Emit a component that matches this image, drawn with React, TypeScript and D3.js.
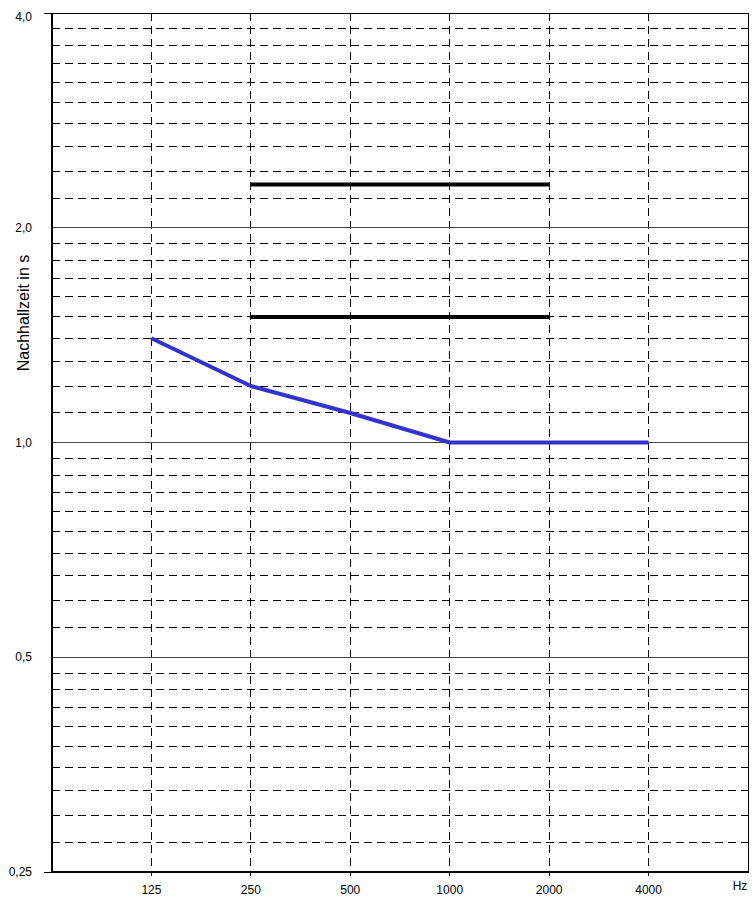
import React from "react";
import * as d3 from "d3";

const categories = ["125", "250", "500", "1000", "2000", "4000"];
const measured = [1.4, 1.2, 1.1, 1.0, 1.0, 1.0];
const upperCats = ["250", "2000"];
const upperValues = [2.3, 2.3];
const lowerCats = ["250", "2000"];
const lowerValues = [1.5, 1.5];
const majorTicks = [0.25, 0.5, 1.0, 2.0, 4.0];
const majorLabels = ["0,25", "0,5", "1,0", "2,0", "4,0"];

export default function App() {
  const W = 752, H = 898;
  const left = 52, right = 748, top = 13, bottom = 872;
  const y = d3.scaleLog().base(2).domain([0.25, 4]).range([bottom, top]);
  const step = (right - left) / 7;
  const x = (c: string) => left + step * (categories.indexOf(c) + 1);

  const minor: number[] = [];
  for (let oi = 0; oi < 4; oi++) {
    const base = majorTicks[oi];
    for (let k = 1; k <= 9; k++) minor.push(base * (1 + k / 10));
  }

  const line = d3.line<[number, number]>().x(d => d[0]).y(d => d[1]);
  const blue = line(categories.map((c, i) => [x(c), y(measured[i])] as [number, number]));
  const up = line(upperCats.map((c, i) => [x(c), y(upperValues[i])] as [number, number]));
  const lo = line(lowerCats.map((c, i) => [x(c), y(lowerValues[i])] as [number, number]));

  const font = "Arial, 'Liberation Sans', sans-serif";

  return (
    <svg width={W} height={H} style={{ position: "absolute", left: 0, top: 0, background: "#fff" }}>
      <rect x={0} y={0} width={W} height={H} fill="#fff" />
      {minor.map((v, i) => (
        <line key={"m" + i} x1={left} x2={right} y1={y(v)} y2={y(v)} stroke="#000" strokeWidth={1} strokeDasharray="8,5" shapeRendering="crispEdges" />
      ))}
      {categories.map(c => (
        <line key={"v" + c} x1={x(c)} x2={x(c)} y1={top} y2={bottom + 4} stroke="#000" strokeWidth={1} strokeDasharray="8,5" shapeRendering="crispEdges" />
      ))}
      {majorTicks.slice(1, 4).map(v => (
        <line key={"M" + v} x1={left} x2={right} y1={y(v)} y2={y(v)} stroke="#444" strokeWidth={1} shapeRendering="crispEdges" />
      ))}
      <rect x={left} y={top} width={right - left} height={bottom - top} fill="none" stroke="#000" strokeWidth={1} shapeRendering="crispEdges" />
      <line x1={left - 8} x2={left} y1={top} y2={top} stroke="#000" shapeRendering="crispEdges" />
      <line x1={left - 8} x2={left} y1={bottom} y2={bottom} stroke="#000" shapeRendering="crispEdges" />
      <line x1={left} x2={left} y1={top} y2={bottom} stroke="#000" strokeWidth={2} shapeRendering="crispEdges" />
      <line x1={left} x2={right} y1={bottom} y2={bottom} stroke="#000" strokeWidth={2} shapeRendering="crispEdges" />
      <path d={up || ""} stroke="#000" strokeWidth={4} fill="none" />
      <path d={lo || ""} stroke="#000" strokeWidth={4} fill="none" />
      <path d={blue || ""} stroke="#3333CC" strokeWidth={4} fill="none" strokeLinejoin="round" />
      {majorTicks.map((v, i) => (
        <text key={"l" + v} x={32} y={Math.max(y(v), 17)} dy="0.35em" textAnchor="end" fontSize={12} fontFamily={font} fill="#000">
          {majorLabels[i]}
        </text>
      ))}
      {categories.map(c => (
        <text key={"t" + c} x={x(c)} y={890} dy="0.35em" textAnchor="middle" fontSize={12} fontFamily={font} fill="#000">
          {c}
        </text>
      ))}
      <text x={740} y={886} dy="0.35em" textAnchor="middle" fontSize={12} fontFamily={font} fill="#000">Hz</text>
      <text transform={`translate(23, 313) rotate(-90)`} textAnchor="middle" dy="0.35em" fontSize={16} fontFamily={font} fill="#000">
        Nachhallzeit in s
      </text>
    </svg>
  );
}
